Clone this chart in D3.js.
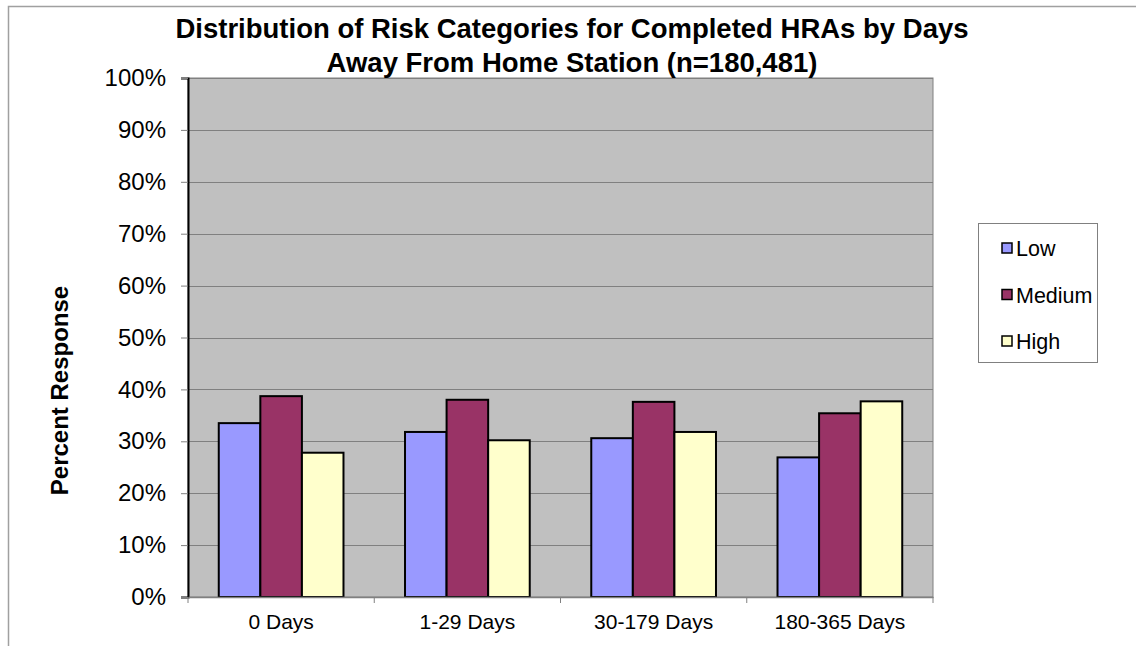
<!DOCTYPE html>
<html>
<head>
<meta charset="utf-8">
<script src="https://cdn.jsdelivr.net/npm/d3@7"></script>
<style>
  body { margin: 0; background: #fff; }
  svg { display: block; font-family: "Liberation Sans", Arial, sans-serif; }
</style>
</head>
<body>
<div id="chart"></div>
<script>
// risk categories by days away — column chart

const categories = ["0 Days", "1-29 Days", "30-179 Days", "180-365 Days"];
const seriesNames = ["Low", "Medium", "High"];
const lowValues = [33.5, 31.8, 30.6, 26.9];
const mediumValues = [38.7, 38.0, 37.6, 35.4];
const highValues = [27.8, 30.2, 31.8, 37.7];
const yTicks = [0, 10, 20, 30, 40, 50, 60, 70, 80, 90, 100];
const colors = ["#9999FF", "#993366", "#FFFFCC"];

const width = 1136, height = 646;
const plot = { left: 188, right: 933, top: 78, bottom: 597 };
const FONT = "Liberation Sans, Arial, sans-serif";

const svg = d3.select("#chart").append("svg")
  .attr("width", width)
  .attr("height", height);

// outer chart border
svg.append("path")
  .attr("d", `M8.5,${height} V6.5 H${width}`)
  .attr("fill", "none")
  .attr("stroke", "#a0a0a0")
  .attr("stroke-width", 1.5);

const x0 = d3.scaleBand()
  .domain(categories)
  .range([plot.left, plot.right])
  .paddingInner(0)
  .paddingOuter(0);

// bars fill about two thirds of each category
const x1 = d3.scaleBand()
  .domain(seriesNames)
  .range([0, x0.bandwidth()])
  .paddingInner(0)
  .paddingOuter(0.74);

const y = d3.scaleLinear()
  .domain([0, 100])
  .range([plot.bottom, plot.top]);

// plot area background
svg.append("rect")
  .attr("x", plot.left)
  .attr("y", plot.top)
  .attr("width", plot.right - plot.left)
  .attr("height", plot.bottom - plot.top)
  .attr("fill", "#C0C0C0")
  .attr("stroke", "#808080")
  .attr("stroke-width", 1);

// gridlines
svg.append("g")
  .selectAll("line")
  .data(yTicks.filter(t => t > 0))
  .enter()
  .append("line")
  .attr("x1", plot.left)
  .attr("x2", plot.right)
  .attr("y1", d => Math.round(y(d)) + 0.5)
  .attr("y2", d => Math.round(y(d)) + 0.5)
  .attr("stroke", "#808080")
  .attr("stroke-width", 1.2);

// bars
const rows = categories.map((c, i) => ({
  cat: c,
  values: [lowValues[i], mediumValues[i], highValues[i]]
}));

const groups = svg.append("g")
  .selectAll("g")
  .data(rows)
  .enter()
  .append("g")
  .attr("transform", d => `translate(${x0(d.cat)},0)`);

groups.selectAll("rect")
  .data(d => d.values.map((v, j) => ({ name: seriesNames[j], value: v, color: colors[j] })))
  .enter()
  .append("rect")
  .attr("x", d => x1(d.name))
  .attr("y", d => y(d.value))
  .attr("width", x1.bandwidth())
  .attr("height", d => y(0) - y(d.value))
  .attr("fill", d => d.color)
  .attr("stroke", "#000")
  .attr("stroke-width", 2);

// y axis
const yAxis = svg.append("g")
  .attr("transform", `translate(${plot.left},0)`)
  .call(d3.axisLeft(y).tickValues(yTicks).tickSize(7).tickPadding(15).tickFormat(d => d + "%"));
yAxis.select(".domain").attr("stroke", "#000").attr("stroke-width", 2);
yAxis.selectAll(".tick line").attr("stroke", "#808080");
yAxis.selectAll("text")
  .style("font-size", "24px")
  .style("font-family", FONT)
  .attr("fill", "#000");

// x axis
const xAxis = svg.append("g")
  .attr("transform", `translate(0,${plot.bottom})`)
  .call(d3.axisBottom(x0).tickSize(0).tickPadding(17));
xAxis.select(".domain").attr("stroke", "#808080").attr("stroke-width", 1.5);
xAxis.selectAll("text")
  .style("font-size", "21px")
  .style("font-family", FONT)
  .attr("fill", "#000");

// x ticks between categories
svg.append("g")
  .selectAll("line")
  .data(categories.map(c => x0(c)).concat([plot.right]))
  .enter()
  .append("line")
  .attr("x1", d => d)
  .attr("x2", d => d)
  .attr("y1", plot.bottom)
  .attr("y2", plot.bottom + 6)
  .attr("stroke", "#808080");

// title
const title = svg.append("text")
  .attr("text-anchor", "middle")
  .style("font-size", "27.5px")
  .style("font-weight", "bold");
title.append("tspan").attr("x", 572).attr("y", 38)
  .text("Distribution of Risk Categories for Completed HRAs by Days");
title.append("tspan").attr("x", 572).attr("y", 72)
  .text("Away From Home Station (n=180,481)");

// y axis title
svg.append("text")
  .attr("transform", `translate(68,${(plot.top + plot.bottom) / 2 + 53}) rotate(-90)`)
  .attr("text-anchor", "middle")
  .style("font-size", "24px")
  .style("font-weight", "bold")
  .text("Percent Response");

// legend
const legend = svg.append("g");
legend.append("rect")
  .attr("x", 978.5).attr("y", 223.5)
  .attr("width", 119).attr("height", 139)
  .attr("fill", "#fff")
  .attr("stroke", "#808080")
  .attr("stroke-width", 1);

const legendY = d3.scalePoint().domain(seriesNames).range([248, 341]);

const items = legend.selectAll(".item")
  .data(seriesNames)
  .enter()
  .append("g")
  .attr("class", "item")
  .attr("transform", d => `translate(1002,${legendY(d)})`);

items.append("rect")
  .attr("x", 0).attr("y", -5)
  .attr("width", 10).attr("height", 10)
  .attr("fill", (d, i) => colors[i])
  .attr("stroke", "#000")
  .attr("stroke-width", 1.5);

items.append("text")
  .attr("x", 14)
  .attr("y", 8)
  .style("font-size", "21.5px")
  .text(d => d);
</script>
</body>
</html>
